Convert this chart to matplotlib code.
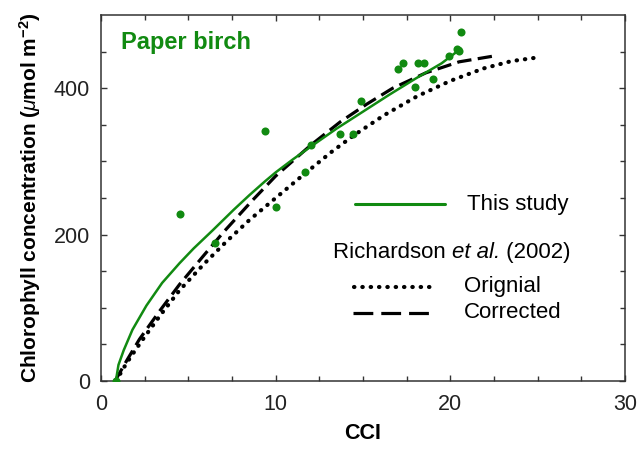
import matplotlib
matplotlib.use('Agg')
import matplotlib.pyplot as plt

plt.rcParams.update({
    'font.family': ['Liberation Sans', 'DejaVu Sans'],
    'mathtext.fontset': 'custom',
    'mathtext.rm': 'Liberation Sans',
    'mathtext.it': 'Liberation Sans:italic',
    'mathtext.bf': 'Liberation Sans:bold',
})

green = '#118a11'

# Measured data (CCI vs chlorophyll)
cci_obs = [0.87, 4.5, 6.5, 9.4, 10.0, 11.7, 12.0, 13.7, 14.4, 14.9, 17.0, 17.3,
           18.0, 18.15, 18.5, 19.0, 19.9, 20.4, 20.5, 20.6]
chl_obs = [0, 228, 189, 342, 238, 286, 322, 337, 337, 382, 426, 434,
           402, 435, 434, 413, 444, 454, 451, 477]

# Fitted curve, this study
fit_x = [0.85, 1.0, 1.3, 1.8, 2.6, 3.5, 4.5, 5.3, 6.4, 7.6, 8.5, 9.4, 10.0,
         11.0, 12.0, 13.5, 15.0, 16.5, 18.0, 19.5, 20.6]
fit_y = [0, 22, 42, 70, 103, 134, 161, 181, 206, 234, 254, 273, 285,
         303, 320, 345, 368, 391, 413, 434, 454]

# Richardson et al. (2002), original
orig_x = [0.86, 1.3, 1.7, 2.4, 3.4, 4.5, 5.9, 7.2, 8.5, 10.0, 11.5, 13.2, 14.5,
          16.2, 18.1, 20.0, 21.9, 23.5, 25.0]
orig_y = [0, 18, 33, 57, 90, 124, 160, 191, 220, 250, 280, 313, 336,
          363, 389, 410, 427, 437, 442]

# Richardson et al. (2002), corrected
corr_x = [0.8, 1.5, 2.2, 3.4, 4.5, 5.9, 7.0, 8.6, 10.0, 12.0, 13.7, 15.2, 16.7,
          18.6, 20.5, 22.5]
corr_y = [0, 29, 57, 97, 132, 172, 203, 245, 280, 322, 354, 378, 400,
          421, 436, 444]

dotted = dict(color='black', lw=3.0, linestyle=(0, (0.1, 1.9)), dash_capstyle='round')
dashed = dict(color='black', lw=2.3, linestyle=(0, (4.5, 2.0)), dash_capstyle='butt')

fig = plt.figure(figsize=(6.38, 4.49), dpi=100)
ax = fig.add_axes([101 / 638, 68 / 449, 524 / 638, 366 / 449])

ax.plot(orig_x, orig_y, **dotted, zorder=2)
ax.plot(corr_x, corr_y, **dashed, zorder=3)
ax.plot(fit_x, fit_y, color=green, lw=1.8, zorder=4)
ax.plot(cci_obs, chl_obs, 'o', color=green, ms=5.8, mec='none', zorder=5)

ax.set_xlim(0, 30)
ax.set_ylim(0, 500)
ax.set_xticks([0, 10, 20, 30])
ax.set_xticks([2.5 * i for i in range(12)], minor=True)
ax.set_yticks([0, 200, 400])
ax.set_yticks([50 * i for i in range(10)], minor=True)
ax.tick_params(which='both', direction='in', top=True, right=True,
               color='#333333', width=1.0, labelsize=15.5, labelcolor='#222222')
ax.tick_params(which='major', length=4.5)
ax.tick_params(which='minor', length=3.5)
ax.tick_params(axis='x', pad=9)
ax.tick_params(axis='y', pad=8)
for s in ax.spines.values():
    s.set_color('#333333')
    s.set_linewidth(1.1)

ax.set_xlabel('CCI', fontsize=15.5, fontweight='bold')
ax.set_ylabel(r'Chlorophyll concentration ($\mu$mol m$^{\mathbf{-2}}$)', fontsize=15, fontweight='bold')
ax.xaxis.set_label_coords(0.5, -0.115)
ax.yaxis.set_label_coords(-0.11, 0.5)

ax.text(0.038, 0.925, 'Paper birch', transform=ax.transAxes, color=green,
        fontsize=17, fontweight='bold', va='center', ha='left')

# legend drawn by hand
ax.plot([0.485, 0.656], [0.4836, 0.4836], color=green, lw=2.2, transform=ax.transAxes,
        solid_capstyle='round')
ax.text(0.698, 0.4836, 'This study', transform=ax.transAxes, fontsize=16, va='center')

# "Richardson et al. (2002)" in three pieces so only "et al." is italic
renderer = fig.canvas.get_renderer()
t = ax.text(0.443, 0.35, 'Richardson ', transform=ax.transAxes, fontsize=16, va='center')
for piece, style in [('et al.', 'italic'), (' (2002)', 'normal')]:
    t = ax.annotate(piece, xy=(1, 0.5), xycoords=t, va='center', fontsize=16,
                    fontstyle=style)
    t.draw(renderer)

ax.plot([0.483, 0.641], [0.2577, 0.2577], transform=ax.transAxes, **dotted)
ax.text(0.693, 0.2577, 'Orignial', transform=ax.transAxes, fontsize=16, va='center')
ax.plot([0.481, 0.634], [0.1866, 0.1866], transform=ax.transAxes,
        color='black', lw=2.3, linestyle=(0, (6.2, 2.5)), dash_capstyle='butt')
ax.text(0.693, 0.1866, 'Corrected', transform=ax.transAxes, fontsize=16, va='center')

fig.savefig('out.png', dpi=100)
